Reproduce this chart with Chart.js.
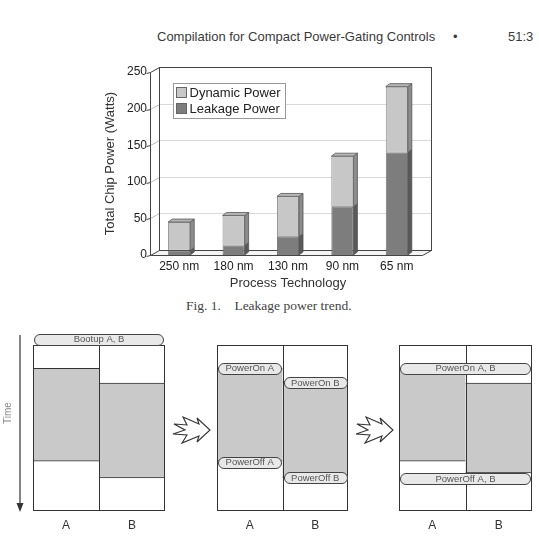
<!DOCTYPE html>
<html>
<head>
<meta charset="utf-8">
<title>Leakage power trend</title>
<script src="https://cdn.jsdelivr.net/npm/chart.js@4.4.1/dist/chart.umd.min.js"></script>
<style>
  html, body { margin: 0; padding: 0; background: #fff; }
  body {
    width: 539px; height: 540px; position: relative; overflow: hidden;
    font-family: 'Liberation Sans', Arial, sans-serif; color: #333;
  }
  .abs { position: absolute; white-space: nowrap; }
  #runHead { left: 157px; top: 29px; font-size: 13px; line-height: 16px; color: #3a3a3a; }
  #runDot { left: 453px; top: 29px; font-size: 13px; line-height: 16px; color: #3a3a3a; }
  #runPage { left: 508px; top: 29px; font-size: 13px; line-height: 16px; color: #3a3a3a; }
  #caption { left: 186px; top: 298px; font-family: 'Liberation Serif', 'DejaVu Serif', serif; font-size: 13.5px; line-height: 16px; color: #444; }
  #trendWrap { left: 90px; top: 55px; width: 350px; height: 240px; }
  .panel { top: 325px; height: 215px; }
  #deco { left: 0; top: 0; pointer-events: none; }
</style>
</head>
<body>

<div id="runHead" class="abs">Compilation for Compact Power-Gating Controls</div>
<div id="runDot" class="abs">•</div>
<div id="runPage" class="abs">51:3</div>

<div id="trendWrap" class="abs"><canvas id="trendChart" width="350" height="240"></canvas></div>
<div id="caption" class="abs">Fig. 1.&nbsp;&nbsp;&nbsp; Leakage power trend.</div>

<div class="abs panel" style="left:23px;width:152px"><canvas id="panelBoot" width="152" height="215"></canvas></div>
<div class="abs panel" style="left:207px;width:151px"><canvas id="panelSeparate" width="151" height="215"></canvas></div>
<div class="abs panel" style="left:389px;width:153px"><canvas id="panelMerged" width="153" height="215"></canvas></div>

<svg id="deco" class="abs" width="539" height="540">
  <line x1="20" y1="335" x2="20" y2="505" stroke="#333" stroke-width="1.2"/>
  <polygon points="16.5,503 23.5,503 20,512" fill="#333"/>
  <text x="0" y="0" transform="translate(11,413) rotate(-90)" text-anchor="middle"
        font-family="Liberation Sans, Arial, sans-serif" font-size="10" fill="#888">Time</text>
  <g fill="#fff" stroke="#333" stroke-width="1.1" stroke-linejoin="miter">
    <polygon transform="translate(173,417)" points="10,0 26,7 24,1 37,13 24,25 26,19 9,26 14,18 0,17 12,13 1,7 14,8"/>
    <polygon transform="translate(356,417)" points="10,0 26,7 24,1 37,13 24,25 26,19 9,26 14,18 0,17 12,13 1,7 14,8"/>
  </g>
</svg>

<script>
// ---------- Fig. 1 data ----------
const processNodes = ['250 nm', '180 nm', '130 nm', '90 nm', '65 nm'];
const leakagePower = [6, 13, 25, 66, 140];
const dynamicPower = [39, 41, 55, 69, 90];
const powerTicks = [0, 50, 100, 150, 200, 250];

// ---------- timeline diagram data (time runs 0..100 top to bottom) ----------
const columns = ['A', 'B'];
const bootupActive = [[14, 70], [23, 80]];
const separateActive = [[14, 70], [22, 80]];
const mergedActive = [[14, 70], [23, 77]];
const bootupEvents = [
  { cols: [0, 1], t: -3.4, text: 'Bootup A, B' }
];
const separateEvents = [
  { cols: [0, 0], t: 14, text: 'PowerOn A' },
  { cols: [1, 1], t: 22.6, text: 'PowerOn B' },
  { cols: [0, 0], t: 70.5, text: 'PowerOff A' },
  { cols: [1, 1], t: 80, text: 'PowerOff B' }
];
const mergedEvents = [
  { cols: [0, 1], t: 14, text: 'PowerOn A, B' },
  { cols: [0, 1], t: 80.4, text: 'PowerOff A, B' }
];

const FONT = "'Liberation Sans', Arial, sans-serif";
const DX = 9, DY = -5;   // depth of the 3D box
const SX = 4, SY = -3;   // depth of each bar

function poly(ctx, pts) {
  ctx.beginPath();
  pts.forEach(([x, y], i) => i ? ctx.lineTo(x, y) : ctx.moveTo(x, y));
  ctx.closePath();
}
function line(ctx, x1, y1, x2, y2) {
  ctx.beginPath();
  ctx.moveTo(x1, y1);
  ctx.lineTo(x2, y2);
  ctx.stroke();
}
const px = v => Math.round(v) + 0.5;

// back wall, left wall, floor and gridlines
const box3d = {
  id: 'box3d',
  beforeDatasetsDraw(chart) {
    const { ctx, chartArea: a, scales: { y } } = chart;
    const L = px(a.left - 2), R = px(a.right - 2);
    const top = px(y.getPixelForValue(y.max)), bot = px(y.getPixelForValue(0));
    ctx.save();
    ctx.lineWidth = 1;
    ctx.strokeStyle = '#444';
    // floor
    ctx.fillStyle = '#f4f4f4';
    poly(ctx, [[L, bot], [R, bot], [R + DX, bot + DY], [L + DX, bot + DY]]);
    ctx.fill(); ctx.stroke();
    // gridlines
    powerTicks.slice(1, -1).forEach(v => {
      const yv = px(y.getPixelForValue(v));
      ctx.strokeStyle = '#dadada';
      line(ctx, L + DX, yv + DY, R + DX, yv + DY);
      ctx.strokeStyle = '#bdbdbd';
      line(ctx, L, yv, L + DX, yv + DY);
    });
    // walls
    ctx.strokeStyle = '#444';
    ctx.strokeRect(L + DX, top + DY, R - L, bot - top);
    line(ctx, L, top, L + DX, top + DY);
    line(ctx, L, top, L, bot);
    // tick marks
    powerTicks.forEach(v => {
      const yv = px(y.getPixelForValue(v));
      line(ctx, L - 4, yv + 1, L, yv);
    });
    ctx.restore();
  },
  afterDatasetsDraw(chart) {
    const { ctx } = chart;
    const last = chart.data.datasets.length - 1;
    ctx.save();
    ctx.lineWidth = 0.8;
    ctx.strokeStyle = '#555';
    chart.data.datasets.forEach((ds, di) => {
      chart.getDatasetMeta(di).data.forEach(bar => {
        const { x, y, base, width } = bar.getProps(['x', 'y', 'base', 'width'], true);
        const l = x - width / 2, r = x + width / 2;
        ctx.fillStyle = ds.sideColor;
        poly(ctx, [[r, y], [r + SX, y + SY], [r + SX, base + SY], [r, base]]);
        ctx.fill(); ctx.stroke();
        if (di === last) {
          ctx.fillStyle = ds.topColor;
          poly(ctx, [[l, y], [l + SX, y + SY], [r + SX, y + SY], [r, y]]);
          ctx.fill(); ctx.stroke();
        }
      });
    });
    ctx.restore();
  }
};

// boxed legend inside the plot
const boxLegend = {
  id: 'boxLegend',
  afterDraw(chart) {
    const { ctx, chartArea: a } = chart;
    const x0 = Math.round(a.left + 21) + 0.5, y0 = Math.round(a.top + 11) + 0.5;
    ctx.save();
    ctx.fillStyle = '#fff';
    ctx.strokeStyle = '#999';
    ctx.lineWidth = 1;
    ctx.fillRect(x0, y0, 112, 35);
    ctx.strokeRect(x0, y0, 112, 35);
    ctx.font = '13px ' + FONT;
    ctx.textBaseline = 'middle';
    chart.data.datasets.slice().reverse().forEach((ds, i) => {
      const cy = y0 + 9 + i * 16;
      ctx.fillStyle = ds.backgroundColor;
      ctx.strokeStyle = '#666';
      ctx.fillRect(x0 + 3, cy - 5, 10, 10);
      ctx.strokeRect(x0 + 3, cy - 5, 10, 10);
      ctx.fillStyle = '#222';
      ctx.fillText(ds.label, x0 + 16, cy + 0.5);
    });
    ctx.restore();
  }
};

new Chart(document.getElementById('trendChart'), {
  type: 'bar',
  data: {
    labels: processNodes,
    datasets: [
      { label: 'Leakage Power', data: leakagePower, backgroundColor: '#7d7d7d', sideColor: '#595959',
        topColor: '#8f8f8f', borderColor: '#5a5a5a', borderWidth: 0.8 },
      { label: 'Dynamic Power', data: dynamicPower, backgroundColor: '#c7c7c7', sideColor: '#8c8c8c',
        topColor: '#b4b4b4', borderColor: '#6a6a6a', borderWidth: 0.8 }
    ]
  },
  options: {
    responsive: false,
    animation: false,
    layout: { padding: { left: 0, right: 16, top: 17, bottom: 0 } },
    datasets: { bar: { categoryPercentage: 1, barPercentage: 0.405, borderSkipped: false } },
    plugins: { legend: { display: false }, tooltip: { enabled: false } },
    scales: {
      x: {
        stacked: true,
        grid: { display: false, drawTicks: false },
        border: { display: false },
        ticks: { color: '#222', font: { family: FONT, size: 12 }, padding: 4 },
        title: { display: true, text: 'Process Technology', color: '#333',
                 font: { family: FONT, size: 13 }, padding: { top: 4, bottom: 4 } },
        afterFit: s => { s.height = 40; }
      },
      y: {
        stacked: true,
        min: 0, max: 250,
        grid: { display: false, drawTicks: false },
        border: { display: false },
        ticks: { stepSize: 50, color: '#222', font: { family: FONT, size: 12 }, padding: 5 },
        title: { display: true, text: 'Total Chip Power (Watts)', color: '#333',
                 font: { family: FONT, size: 13 }, padding: { top: 13, bottom: 4 } },
        afterFit: s => { s.width = 62; }
      }
    }
  },
  plugins: [box3d, boxLegend]
});

// ---------- timeline panels ----------
function timelinePlugin(events) {
  return {
    id: 'timeline',
    afterDatasetsDraw(chart) {
      const { ctx, chartArea: a, scales: { x, y } } = chart;
      const colW = a.width / columns.length;
      ctx.save();
      ctx.strokeStyle = '#333';
      ctx.lineWidth = 1;
      ctx.strokeRect(px(a.left), px(a.top), Math.round(a.width) - 1, Math.round(a.height) - 1);
      line(ctx, px(a.left + colW), a.top, px(a.left + colW), a.bottom);
      // event capsules
      ctx.font = '9.5px ' + FONT;
      ctx.textAlign = 'center';
      ctx.textBaseline = 'middle';
      events.forEach(ev => {
        const xl = x.getPixelForValue(ev.cols[0]) - colW / 2 + 1;
        const xr = x.getPixelForValue(ev.cols[1]) + colW / 2 - 1;
        const yc = y.getPixelForValue(ev.t);
        ctx.beginPath();
        ctx.roundRect(px(xl), px(yc - 5.5), Math.round(xr - xl) - 1, 11, 5.5);
        ctx.fillStyle = '#e8e8e8';
        ctx.fill();
        ctx.strokeStyle = '#444';
        ctx.stroke();
        ctx.fillStyle = '#555';
        ctx.fillText(ev.text, (xl + xr) / 2, yc + 0.5);
      });
      // column names
      ctx.font = '12px ' + FONT;
      ctx.fillStyle = '#333';
      columns.forEach((c, i) => ctx.fillText(c, x.getPixelForValue(i), a.bottom + 15));
      ctx.restore();
    }
  };
}

function makePanel(id, active, events) {
  return new Chart(document.getElementById(id), {
    type: 'bar',
    data: {
      labels: columns,
      datasets: [{
        data: active,
        backgroundColor: '#c9c9c9',
        borderColor: '#333',
        borderWidth: { top: 1, bottom: 1, left: 0, right: 0 },
        borderSkipped: false,
        categoryPercentage: 1,
        barPercentage: 1
      }]
    },
    options: {
      responsive: false,
      animation: false,
      layout: { padding: { left: 10, right: 10, top: 20, bottom: 29 } },
      plugins: { legend: { display: false }, tooltip: { enabled: false } },
      scales: {
        x: { display: false },
        y: { display: false, min: 0, max: 100, reverse: true }
      }
    },
    plugins: [timelinePlugin(events)]
  });
}

makePanel('panelBoot', bootupActive, bootupEvents);
makePanel('panelSeparate', separateActive, separateEvents);
makePanel('panelMerged', mergedActive, mergedEvents);
</script>
</body>
</html>
